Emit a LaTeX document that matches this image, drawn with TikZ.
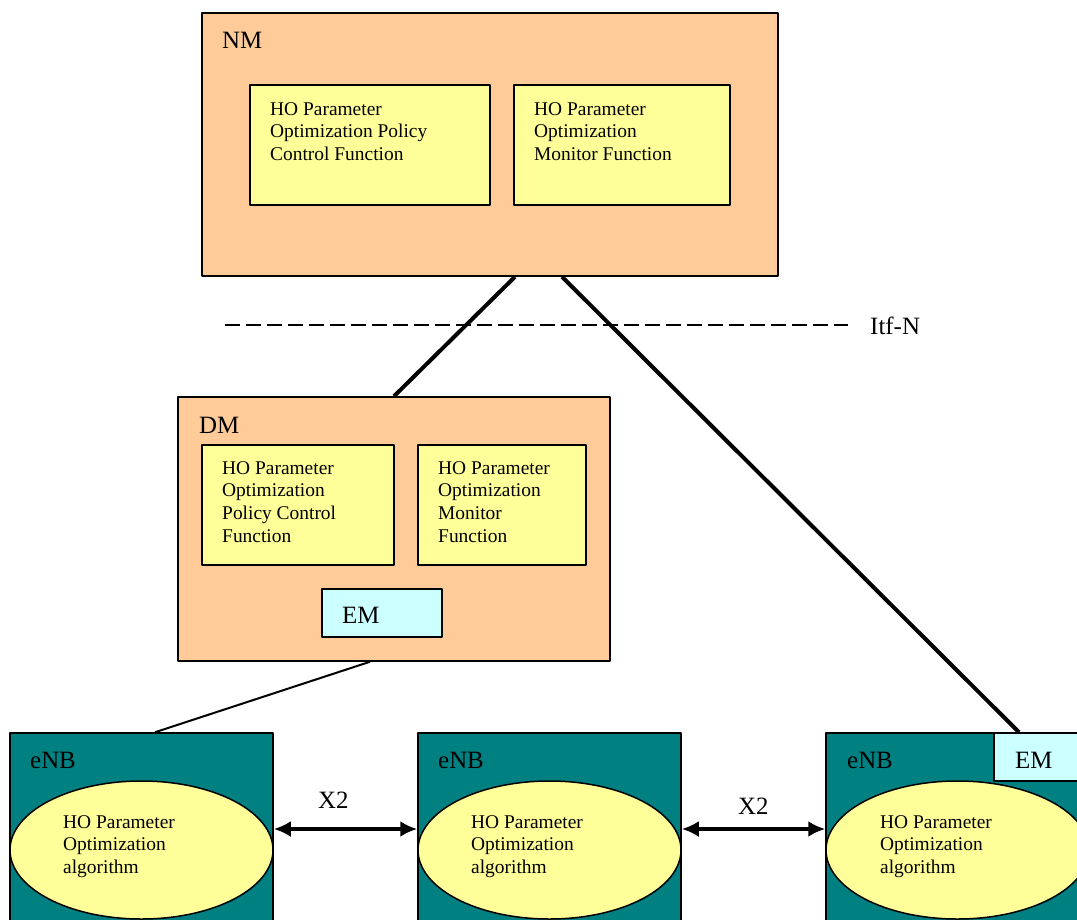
\documentclass[tikz,border=0pt]{standalone}
\usepackage{fontspec}
\setmainfont{Liberation Serif}
\usetikzlibrary{arrows.meta,shapes.geometric}
\definecolor{peach}{HTML}{FFCC99}
\definecolor{paleyellow}{HTML}{FFFF99}
\definecolor{palecyan}{HTML}{CCFFFF}
\definecolor{enbteal}{HTML}{008080}
\tikzset{
  box/.style={draw,line width=1.5bp,inner sep=0pt},
  mgr/.style={box,fill=peach},
  func/.style={box,fill=paleyellow},
  embox/.style={box,fill=palecyan},
  enb/.style={box,fill=enbteal},
  algo/.style={box,ellipse,fill=paleyellow,minimum width=263bp,minimum height=138bp},
  title/.style={anchor=base west,inner sep=0pt,font=\fontsize{25}{30}\selectfont},
  body/.style={anchor=north west,inner sep=0pt,align=left,font=\fontsize{19.5}{23}\selectfont},
  x2link/.style={black,line width=4bp,{Latex[length=17bp,width=16bp]}-{Latex[length=17bp,width=16bp]}},
}
\begin{document}
\begin{tikzpicture}[line join=bevel,x=1bp,y=-1bp]
\useasboundingbox (0,0) rectangle (1077,920);
\clip (0,0) rectangle (1077,920);
%%
\node (node_nm) at (490,144.5) [mgr,minimum width=576bp,minimum height=263bp] {};
  \node (node_nm_pc) at (370,145) [func,minimum width=240bp,minimum height=120bp] {};
  \node (node_nm_mon) at (622,145) [func,minimum width=216bp,minimum height=120bp] {};
  \node (node_nm_t) at (222,48) [title] {NM};
  \node (node_nm_pc_t) at (270,102) [body] {HO Parameter\\Optimization Policy\\Control Function};
  \node (node_nm_mon_t) at (534,102) [body] {HO Parameter\\Optimization\\Monitor Function};
%
\coordinate (itf_start) at (225,325);
  \coordinate (itf_end) at (848,325);
  \node (node_itf) at (870,334) [title] {Itf-N};
  \draw [line width=2bp,dash pattern=on 15bp off 6bp] (itf_start) -- (itf_end);
%
\node (node_dm) at (394,529) [mgr,minimum width=432bp,minimum height=264bp] {};
  \node (node_dm_pc) at (298,505) [func,minimum width=192bp,minimum height=120bp] {};
  \node (node_dm_mon) at (502,505) [func,minimum width=168bp,minimum height=120bp] {};
  \node (node_dm_em) at (382,613) [embox,minimum width=120bp,minimum height=48bp] {};
  \node (node_dm_t) at (199,433) [title] {DM};
  \node (node_dm_pc_t) at (222,461) [body] {HO Parameter\\Optimization\\Policy Control\\Function};
  \node (node_dm_mon_t) at (438,461) [body] {HO Parameter\\Optimization\\Monitor\\Function};
  \node (node_dm_em_t) at (342,623) [title] {EM};
%
\node (node_enb1) at (141.5,863) [enb,minimum width=263bp,minimum height=260bp] {};
  \node (node_enb2) at (549.5,863) [enb,minimum width=263bp,minimum height=260bp] {};
  \node (node_enb3) at (957.5,863) [enb,minimum width=263bp,minimum height=260bp] {};
  \node (node_algo1) at (141.5,850) [algo] {};
  \node (node_algo2) at (549.5,850) [algo] {};
  \node (node_algo3) at (957.5,850) [algo] {};
  \node (node_em3) at (1047,757) [embox,minimum width=106bp,minimum height=48bp] {};
  \node (node_enb1_t) at (30,768) [title] {eNB};
  \node (node_enb2_t) at (438,768) [title] {eNB};
  \node (node_enb3_t) at (847,768) [title] {eNB};
  \node (node_em3_t) at (1015,768) [title] {EM};
  \node (node_algo1_t) at (63,815) [body] {HO Parameter\\Optimization\\algorithm};
  \node (node_algo2_t) at (471,815) [body] {HO Parameter\\Optimization\\algorithm};
  \node (node_algo3_t) at (880,815) [body] {HO Parameter\\Optimization\\algorithm};
  \node (node_x2a) at (318,808) [title] {X2};
  \node (node_x2b) at (738,814) [title] {X2};
%
\draw [black,line width=4bp] ([xshift=25bp]node_nm.south) -- (node_dm.north);
  \draw [black,line width=4bp] ([xshift=72bp]node_nm.south) -- ([xshift=-28bp]node_em3.north);
  \draw [black,line width=2bp] ([xshift=-24bp]node_dm.south) -- ([xshift=13.5bp]node_enb1.north);
  \draw [x2link] ([yshift=34bp]node_enb1.east) -- ([yshift=34bp]node_enb2.west);
  \draw [x2link] ([yshift=34bp]node_enb2.east) -- ([yshift=34bp]node_enb3.west);
%
\end{tikzpicture}
\end{document}
